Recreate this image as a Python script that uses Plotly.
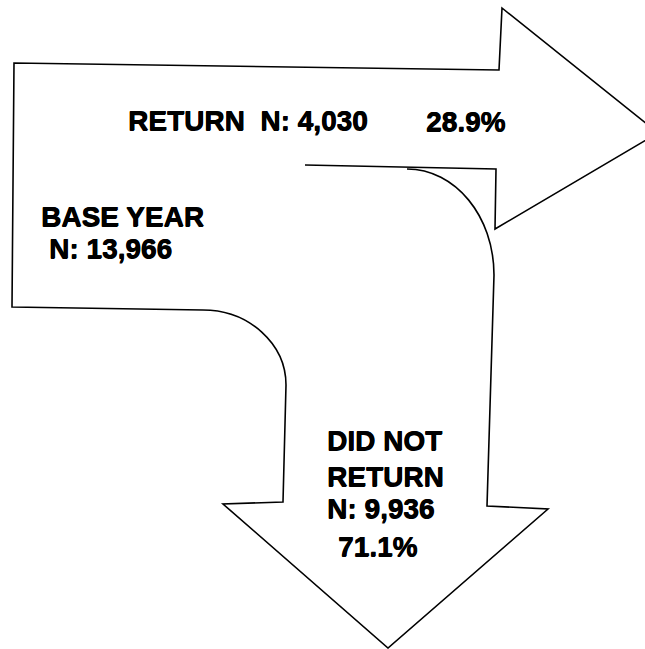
import plotly.graph_objects as go

# ---- data ----
base_label = "BASE YEAR"
base_n = 13966
return_label = "RETURN"
return_n = 4030
return_pct = 28.9
notreturn_label = ["DID NOT", "RETURN"]
notreturn_n = 9936
notreturn_pct = 71.1

W, H = 645, 649

# ---- outline of the two-way flow arrow (pixel geometry of the diagram) ----
outline = (
    "M 305 165 L 496 169 L 495 229 L 658 133 L 502 8 L 499 70 "
    "L 14 63 L 12 307 L 203 310 "
    "C 249 310 286 344 286 385 "
    "L 283 502 L 223 504 L 388 648 L 548 509 L 487 506 L 494 275 "
    "C 494 216 455 169 407 169"
)

fig = go.Figure()
fig.add_trace(go.Scatter(x=[0, W], y=[0, H], mode="markers",
                         marker=dict(opacity=0), hoverinfo="skip", showlegend=False))

fig.add_shape(type="path", path=outline, xref="x", yref="y",
              line=dict(color="black", width=1.6), fillcolor="rgba(0,0,0,0)")

font = dict(family="Liberation Sans, Arial, sans-serif", size=28, color="black",
            shadow="0.6px 0 0 black, 0 0.5px 0 black")

def fmt(n):
    return f"{n:,}"

texts = [
    (f"{return_label}  N: {fmt(return_n)}", 126, 120),
    (f"{return_pct:.1f}%", 424, 121),
    (base_label, 39, 216),
    (f"N: {fmt(base_n)}", 47, 248),
    (notreturn_label[0], 325, 440),
    (notreturn_label[1], 325, 476),
    (f"N: {fmt(notreturn_n)}", 325, 508),
    (f"{notreturn_pct:.1f}%", 336, 546),
]
for t, x, y in texts:
    fig.add_annotation(x=x, y=y, xref="x", yref="y", text=f"<b>{t}</b>",
                       showarrow=False, xanchor="left", yanchor="middle",
                       font=font)

fig.update_xaxes(range=[0, W], visible=False, fixedrange=True)
fig.update_yaxes(range=[H, 0], visible=False, fixedrange=True)
fig.update_layout(width=W, height=H, margin=dict(l=0, r=0, t=0, b=0),
                  paper_bgcolor="white", plot_bgcolor="white", showlegend=False)

fig.write_html("out.html", config={"displayModeBar": False},
               post_script="document.body.style.margin='0';"
                           "document.body.style.overflow='hidden';")
